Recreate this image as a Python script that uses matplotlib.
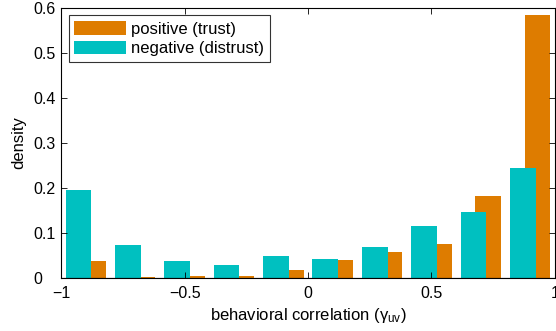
import numpy as np
import matplotlib
matplotlib.use("Agg")
import matplotlib.pyplot as plt

plt.rcParams['font.family'] = ['Liberation Sans', 'DejaVu Sans']
plt.rcParams['mathtext.fontset'] = 'custom'
plt.rcParams['mathtext.rm'] = 'Liberation Sans'
plt.rcParams['mathtext.it'] = 'Liberation Sans'

# histogram bins of the behavioral correlation
bin_centers = [-0.9, -0.7, -0.5, -0.3, -0.1, 0.1, 0.3, 0.5, 0.7, 0.9]
positive = [0.037, 0.002, 0.004, 0.005, 0.018, 0.039, 0.057, 0.075, 0.182, 0.585]
negative = [0.196, 0.073, 0.037, 0.028, 0.049, 0.042, 0.070, 0.116, 0.147, 0.245]

orange = '#DE7C00'
cyan = '#00C0C0'

fig = plt.figure(figsize=(5.56, 3.31), dpi=100)
ax = fig.add_axes([0.110, 0.160, 0.888, 0.816])

x = np.array(bin_centers)
w = 0.104
# orange drawn first, cyan overlaps it
ax.bar(x + 0.03, positive, width=w, color=orange, edgecolor='none', label='positive (trust)')
ax.bar(x - 0.03, negative, width=w, color=cyan, edgecolor='none', label='negative (distrust)')
ax.axhline(0, color='black', lw=0.8)

ax.set_xlim(-1, 1)
ax.set_ylim(0, 0.6)
ax.set_xticks([-1, -0.5, 0, 0.5, 1])
ax.set_xticklabels(['\u22121', '\u22120.5', '0', '0.5', '1'])
ax.set_yticks([0, 0.1, 0.2, 0.3, 0.4, 0.5, 0.6])
ax.set_yticklabels(['0', '0.1', '0.2', '0.3', '0.4', '0.5', '0.6'])
ax.tick_params(direction='in', top=True, right=True, labelsize=11.5, length=4, width=0.6)
ax.tick_params(axis='x', pad=6)
ax.tick_params(axis='y', pad=20)
for lab in ax.get_yticklabels():
    lab.set_horizontalalignment('left')
for s in ax.spines.values():
    s.set_linewidth(0.8)

ax.set_xlabel(r'behavioral correlation ($\gamma_{uv}$)', fontsize=12, labelpad=3)
ax.set_ylabel('density', fontsize=12, labelpad=5)

leg = ax.legend(loc='upper left', fontsize=12, frameon=True, fancybox=False,
                edgecolor='black', handlelength=3.1, handleheight=0.9,
                borderaxespad=0.45, labelspacing=0.22, handletextpad=0.3,
                borderpad=0.35)
leg.get_frame().set_linewidth(0.8)

fig.savefig('out.png', dpi=100)
